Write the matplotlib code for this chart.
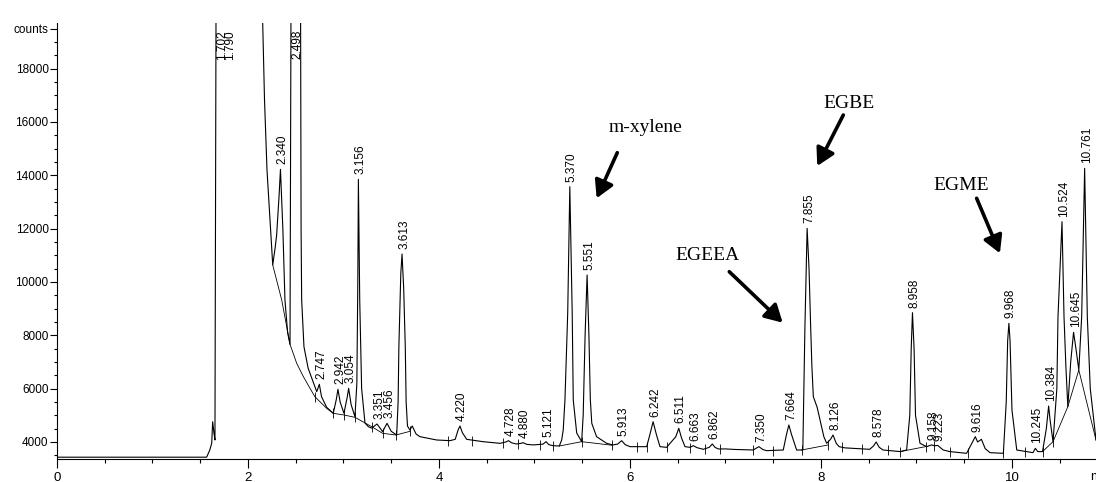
import numpy as np
import matplotlib.pyplot as plt
from matplotlib.ticker import MultipleLocator

plt.rcParams['font.family'] = ['Liberation Sans', 'DejaVu Sans']

# detector trace, (time min, counts)
trace = [
    (0.00, 3430), (1.567, 3430), (1.600, 3700), (1.620, 3950), (1.630, 4760), (1.645, 4300),
    (1.654, 4075), (1.672, 30000), (2.120, 30000), (2.154, 19712), (2.173, 16825), (2.199, 14200),
    (2.230, 12325), (2.259, 10640), (2.285, 11300), (2.300, 11760), (2.325, 13200), (2.340, 14225),
    (2.365, 12000), (2.387, 9325), (2.415, 8100), (2.440, 7664), (2.458, 30000), (2.540, 30000),
    (2.551, 19712), (2.556, 12000), (2.562, 9325), (2.586, 7574), (2.630, 6764), (2.720, 5886),
    (2.747, 6164), (2.770, 5700), (2.824, 5300), (2.893, 5075), (2.925, 5600), (2.942, 5976),
    (2.965, 5500), (3.005, 5075), (3.040, 5700), (3.054, 6013), (3.080, 5400), (3.120, 4950),
    (3.140, 6200), (3.150, 10000), (3.156, 13851), (3.170, 9325), (3.190, 6000), (3.225, 4712),
    (3.260, 4575), (3.295, 4520), (3.351, 4675), (3.410, 4388), (3.456, 4700), (3.500, 4400),
    (3.557, 4262), (3.572, 5500), (3.580, 7574), (3.600, 10300), (3.613, 11050), (3.630, 9800),
    (3.647, 7574), (3.656, 5500), (3.670, 4600), (3.695, 4450), (3.720, 4600), (3.760, 4300),
    (3.800, 4200), (3.976, 4075), (4.115, 4050), (4.170, 4100), (4.200, 4450), (4.220, 4600),
    (4.245, 4350), (4.290, 4100), (4.460, 4012), (4.640, 3950), (4.700, 4000), (4.728, 4050),
    (4.760, 3970), (4.810, 3925), (4.860, 3950), (4.880, 3975), (4.920, 3910), (4.990, 3890),
    (5.090, 3920), (5.121, 4012), (5.150, 3900), (5.197, 3860), (5.260, 3850), (5.285, 4075),
    (5.301, 4450), (5.319, 5575), (5.348, 8840), (5.370, 13575), (5.395, 8840), (5.406, 5575),
    (5.442, 4340), (5.494, 4012), (5.510, 5000), (5.530, 8000), (5.551, 10262), (5.570, 8000),
    (5.585, 5575), (5.600, 4700), (5.650, 4200), (5.756, 3950), (5.820, 3890), (5.870, 3920),
    (5.913, 4050), (5.950, 3900), (6.000, 3825), (6.175, 3825), (6.210, 4300), (6.242, 4762),
    (6.275, 4300), (6.314, 3825), (6.384, 3800), (6.480, 4200), (6.511, 4512), (6.540, 4150),
    (6.576, 3825), (6.630, 3800), (6.663, 3863), (6.700, 3790), (6.768, 3725), (6.830, 3800),
    (6.862, 3925), (6.890, 3800), (6.925, 3738), (7.000, 3740), (7.100, 3720), (7.290, 3700),
    (7.350, 3825), (7.390, 3720), (7.430, 3675), (7.605, 3700), (7.640, 4300), (7.664, 4637),
    (7.690, 4300), (7.745, 3700), (7.810, 3700), (7.832, 8325), (7.855, 12012), (7.875, 10500),
    (7.892, 8325), (7.905, 6825), (7.920, 5700), (7.960, 5300), (7.990, 4825), (8.030, 4200),
    (8.060, 3950), (8.100, 4100), (8.126, 4262), (8.160, 3950), (8.190, 3825), (8.250, 3780),
    (8.340, 3762), (8.510, 3725), (8.550, 3850), (8.578, 4000), (8.610, 3800), (8.650, 3700),
    (8.830, 3640), (8.897, 3700), (8.930, 5000), (8.945, 7500), (8.958, 8850), (8.975, 7500),
    (8.990, 5000), (9.037, 3950), (9.107, 3825), (9.158, 3890), (9.190, 3860), (9.223, 3870),
    (9.280, 3700), (9.350, 3640), (9.525, 3575), (9.580, 3950), (9.616, 4200), (9.640, 4000),
    (9.680, 4100), (9.720, 3750), (9.770, 3600), (9.910, 3575), (9.940, 5500), (9.955, 7800),
    (9.968, 8450), (9.980, 7800), (10.000, 5200), (10.050, 3700), (10.220, 3600), (10.245, 3762),
    (10.270, 3640), (10.320, 3640), (10.360, 4500), (10.384, 5350), (10.400, 4800), (10.430, 4012),
    (10.470, 6000), (10.482, 8700), (10.524, 12262), (10.545, 8700), (10.565, 6800), (10.585, 5325),
    (10.615, 7000), (10.645, 8112), (10.670, 7500), (10.700, 6700), (10.730, 8700), (10.761, 14262),
    (10.789, 8700), (10.820, 6000), (10.880, 4075),
]

# integration baselines drawn under the peaks
baselines = [
    [(2.259, 10640), (2.353, 9325), (2.440, 7664), (2.510, 6950), (2.580, 6450), (2.650, 6010),
     (2.700, 5700), (2.824, 5262), (2.893, 5075), (3.005, 5012), (3.120, 4925), (3.295, 4575),
     (3.410, 4325), (3.550, 4262), (3.696, 4400)],
    [(5.260, 3850), (5.494, 4012), (5.808, 3880)],
    [(7.797, 3700), (8.077, 3890)],
    [(8.830, 3640), (9.100, 3830)],
    [(10.320, 3640), (10.430, 4012), (10.585, 5325), (10.700, 6700), (10.880, 4075)],
]

# start / end markers of integrated peaks
marks = [
    (2.700, 5700), (2.893, 5075), (3.005, 5012), (3.120, 4925), (3.295, 4575), (3.410, 4325),
    (3.550, 4262), (3.696, 4400), (4.098, 4050), (4.342, 4030), (4.667, 3950), (4.830, 3920),
    (5.058, 3890), (5.190, 3860), (5.494, 4012), (5.808, 3880), (6.070, 3830), (6.175, 3825),
    (6.384, 3800), (6.628, 3790), (6.785, 3725), (6.942, 3738), (7.290, 3700), (7.500, 3680),
    (7.797, 3700), (8.077, 3890), (8.217, 3800), (8.426, 3740), (8.705, 3690), (8.830, 3640),
    (9.100, 3830), (9.186, 3850), (9.350, 3640), (9.540, 3580), (9.910, 3575), (10.136, 3620),
    (10.320, 3640), (10.430, 4012),
]

peak_labels = ['1.702', '1.790', '2.340', '2.498', '2.747', '2.942', '3.054', '3.156', '3.351',
               '3.456', '3.613', '4.220', '4.728', '4.880', '5.121', '5.370', '5.551', '5.913',
               '6.242', '6.511', '6.663', '6.862', '7.350', '7.664', '7.855', '8.126', '8.578',
               '8.958', '9.158', '9.223', '9.616', '9.968', '10.245', '10.384', '10.524',
               '10.645', '10.761']
peak_heights = [None, None, 14225, None, 6164, 5976, 6013, 13851, 4675,
                4700, 11050, 4600, 4050, 3975, 4012, 13575, 10262, 4050,
                4762, 4512, 3863, 3925, 3825, 4637, 12012, 4262, 4000,
                8850, 3890, 3870, 4200, 8450, 3762, 5350, 12262,
                8112, 14262]

compounds = ['m-xylene', 'EGBE', 'EGEEA', 'EGME']
compound_text_at = [(6.164, 15786), (8.293, 16712), (6.809, 10986), (9.473, 13600)]
arrow_from = [(5.867, 14849), (8.234, 16262), (7.040, 10386), (9.630, 13139)]
arrow_to = [(5.651, 13139), (7.961, 14350), (7.599, 8474), (9.874, 11076)]

y_major = [4000, 6000, 8000, 10000, 12000, 14000, 16000, 18000, 19500]
y_major_labels = ['4000', '6000', '8000', '10000', '12000', '14000', '16000', '18000', 'counts']

fig = plt.figure(figsize=(10.96, 4.82), dpi=100)
ax = fig.add_axes([57 / 1096, 1 - 459.3 / 482, 1 - 57 / 1096, (459.3 - 23) / 482])

tt, cc = np.array(trace).T
ax.plot(tt, cc, color='black', lw=0.8)

for seg in baselines:
    bt, bc = np.array(seg).T
    ax.plot(bt, bc, color='black', lw=0.6)

mt, mc = np.array(marks).T
ax.plot(mt, mc, ls='none', marker='|', ms=7, mew=0.6, color='black')

for lbl, h in zip(peak_labels, peak_heights):
    t = float(lbl)
    if h is None:
        ax.annotate(lbl, (t, 1), xycoords=('data', 'axes fraction'), xytext=(1.5, -5),
                    textcoords='offset points', rotation=90, ha='center', va='top',
                    fontsize=8.5)
    else:
        ax.annotate(lbl, (t, h), xytext=(1.5, 3.5), textcoords='offset points',
                    rotation=90, ha='center', va='bottom', fontsize=8.5)

for name, pos, a, b in zip(compounds, compound_text_at, arrow_from, arrow_to):
    ax.text(pos[0], pos[1], name, ha='center', va='center', fontsize=14,
            family=['Liberation Serif', 'DejaVu Serif'])
    ax.annotate('', xy=b, xytext=a,
                arrowprops=dict(arrowstyle='-|>,head_length=0.8,head_width=0.45',
                                lw=2.6, color='black', shrinkA=0, shrinkB=0,
                                mutation_scale=13))

ax.set_xlim(0, 10.88)
ax.set_ylim(3351, 19712)
ax.set_xticks([0, 2, 4, 6, 8, 10])
ax.xaxis.set_minor_locator(MultipleLocator(0.5))
ax.set_yticks(y_major)
ax.set_yticklabels(y_major_labels)
ax.yaxis.set_minor_locator(MultipleLocator(500))

ax.tick_params(axis='x', which='major', length=6.5, width=0.8, labelsize=9.5, pad=2.5)
ax.tick_params(axis='x', which='minor', length=3, width=0.8)
ax.tick_params(axis='y', which='major', length=5, width=0.8, labelsize=8.5, pad=1)
ax.tick_params(axis='y', which='minor', length=2.5, width=0.8)
for s in ['top', 'right']:
    ax.spines[s].set_visible(False)
for s in ['left', 'bottom']:
    ax.spines[s].set_linewidth(0.8)

fig.text(1090 / 1096, 1 - 477 / 482, 'min', ha='left', va='center', fontsize=9.5)

fig.savefig('out.png', dpi=100)
